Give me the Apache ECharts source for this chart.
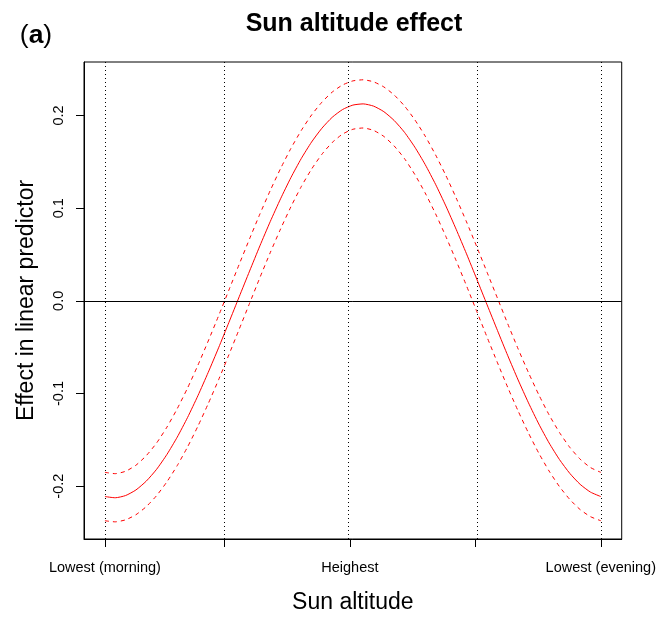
<!DOCTYPE html>
<html><head><meta charset="utf-8">
<script src="https://cdn.jsdelivr.net/npm/echarts@6/dist/echarts.min.js"></script>
<style>html,body{margin:0;padding:0;background:#fff}#c{width:659px;height:619px}</style>
</head><body><div id="c"></div>
<script>
// phase of the day (0 = lowest morning, 1 = lowest evening)
const xPhase = [0, 0.0208, 0.0417, 0.0625, 0.0833, 0.1042, 0.125, 0.1458, 0.1667, 0.1875, 0.2083, 0.2292, 0.25,
  0.2708, 0.2917, 0.3125, 0.3333, 0.3542, 0.375, 0.3958, 0.4167, 0.4375, 0.4583, 0.4792, 0.5,
  0.5208, 0.5417, 0.5625, 0.5833, 0.6042, 0.625, 0.6458, 0.6667, 0.6875, 0.7083, 0.7292, 0.75,
  0.7708, 0.7917, 0.8125, 0.8333, 0.8542, 0.875, 0.8958, 0.9167, 0.9375, 0.9583, 0.9792, 1];
const fitValues = [-0.2112, -0.2125, -0.2101, -0.2041, -0.1946, -0.1818, -0.1658, -0.1471, -0.1258, -0.1024, -0.0772, -0.0507, -0.0233,
  0.0044, 0.0321, 0.0593, 0.0854, 0.1101, 0.1329, 0.1534, 0.1713, 0.1862, 0.1980, 0.2064, 0.2112,
  0.2125, 0.2101, 0.2041, 0.1946, 0.1818, 0.1658, 0.1471, 0.1258, 0.1024, 0.0772, 0.0507, 0.0233,
  -0.0044, -0.0321, -0.0593, -0.0854, -0.1101, -0.1329, -0.1534, -0.1713, -0.1862, -0.1980, -0.2064, -0.2112];
const upperValues = [-0.1851, -0.1865, -0.1839, -0.1774, -0.1671, -0.1534, -0.1363, -0.1164, -0.0940, -0.0695, -0.0434, -0.0162, 0.0116,
  0.0394, 0.0669, 0.0936, 0.1189, 0.1427, 0.1644, 0.1837, 0.2005, 0.2143, 0.2252, 0.2329, 0.2373,
  0.2385, 0.2363, 0.2308, 0.2221, 0.2102, 0.1953, 0.1778, 0.1576, 0.1353, 0.1110, 0.0852, 0.0582,
  0.0306, 0.0027, -0.0250, -0.0519, -0.0775, -0.1014, -0.1231, -0.1421, -0.1581, -0.1708, -0.1799, -0.1851];
const lowerValues = [-0.2373, -0.2385, -0.2363, -0.2308, -0.2221, -0.2102, -0.1953, -0.1778, -0.1576, -0.1353, -0.1110, -0.0852, -0.0582,
  -0.0306, -0.0027, 0.0250, 0.0519, 0.0775, 0.1014, 0.1231, 0.1421, 0.1581, 0.1708, 0.1799, 0.1851,
  0.1865, 0.1839, 0.1774, 0.1671, 0.1534, 0.1363, 0.1164, 0.0940, 0.0695, 0.0434, 0.0162, -0.0116,
  -0.0394, -0.0669, -0.0936, -0.1189, -0.1427, -0.1644, -0.1837, -0.2005, -0.2143, -0.2252, -0.2329, -0.2373];
const xTickValues = [0, 0.241, 0.494, 0.747, 1];
const xTickLabels = ['Lowest (morning)', '', 'Heighest', '', 'Lowest (evening)'];
const yTickValues = [-0.2, -0.1, 0, 0.1, 0.2];
const yTickLabels = ['-0.2', '-0.1', '0.0', '0.1', '0.2'];

const FONT = '"Liberation Sans", Arial, Helvetica, sans-serif';
const pair = (ys) => xPhase.map((x, i) => [x, ys[i]]);
const lookup = (vals, labels) => (v) => { const i = vals.findIndex(t => Math.abs(t - v) < 1e-6); return i >= 0 ? labels[i] : ''; };

const chart = echarts.init(document.getElementById('c'), null, {renderer: 'canvas'});
chart.setOption({
  animation: false,
  backgroundColor: '#ffffff',
  grid: {left: 84, right: 35, top: 62, bottom: 75, show: true, borderColor: '#000', borderWidth: 1, containLabel: false},
  xAxis: {
    type: 'value', min: -0.0422, max: 1.0422,
    name: 'Sun altitude', nameLocation: 'middle', nameGap: 52,
    nameTextStyle: {fontFamily: FONT, fontSize: 23, color: '#000'},
    axisLine: {show: true, onZero: false, lineStyle: {color: '#000', width: 1}},
    axisTick: {show: true, inside: false, length: 8, customValues: xTickValues, lineStyle: {color: '#000'}},
    axisLabel: {show: true, customValues: xTickValues, margin: 21, fontFamily: FONT, fontSize: 14.5, color: '#000',
      formatter: lookup(xTickValues, xTickLabels)},
    splitLine: {show: false}
  },
  yAxis: {
    type: 'value', min: -0.257, max: 0.2577,
    name: 'Effect in linear predictor', nameLocation: 'middle', nameGap: 46, nameRotate: 90,
    nameTextStyle: {fontFamily: FONT, fontSize: 23, color: '#000'},
    axisLine: {show: true, onZero: false, lineStyle: {color: '#000', width: 1}},
    axisTick: {show: true, inside: false, length: 8, customValues: yTickValues, lineStyle: {color: '#000'}},
    axisLabel: {show: true, customValues: yTickValues, rotate: 90, margin: 18, fontFamily: FONT, fontSize: 14.5, color: '#000',
      formatter: lookup(yTickValues, yTickLabels)},
    splitLine: {show: false}
  },
  graphic: [
    {type: 'text', x: 354, y: 24, style: {text: 'Sun altitude effect', font: 'bold 25px ' + FONT, fill: '#000', textAlign: 'center', textVerticalAlign: 'middle'}},
    {type: 'text', x: 36, y: 36, style: {text: '{p|(}{b|a}{p|)}', textAlign: 'center', textVerticalAlign: 'middle',
      rich: {p: {fontFamily: FONT, fontSize: 26.5, fontWeight: 'normal', color: '#000'},
             b: {fontFamily: FONT, fontSize: 26.5, fontWeight: 'bold', color: '#000'}}}}
  ],
  series: [
    {type: 'line', name: 'fit', data: pair(fitValues), smooth: 0.2, showSymbol: false, symbol: 'none',
      lineStyle: {color: '#ff0000', width: 1}, z: 3,
      markLine: {silent: true, symbol: 'none', label: {show: false},
        data: xTickValues.map(v => ({xAxis: v, lineStyle: {color: '#000', width: 1, type: [1, 3]}}))
          .concat([{yAxis: 0, lineStyle: {color: '#000', width: 1, type: 'solid'}}])}},
    {type: 'line', name: 'upper', data: pair(upperValues), smooth: 0.2, showSymbol: false, symbol: 'none',
      lineStyle: {color: '#ff0000', width: 1, type: [4, 4]}, z: 3},
    {type: 'line', name: 'lower', data: pair(lowerValues), smooth: 0.2, showSymbol: false, symbol: 'none',
      lineStyle: {color: '#ff0000', width: 1, type: [4, 4]}, z: 3}
  ]
});
</script></body></html>
